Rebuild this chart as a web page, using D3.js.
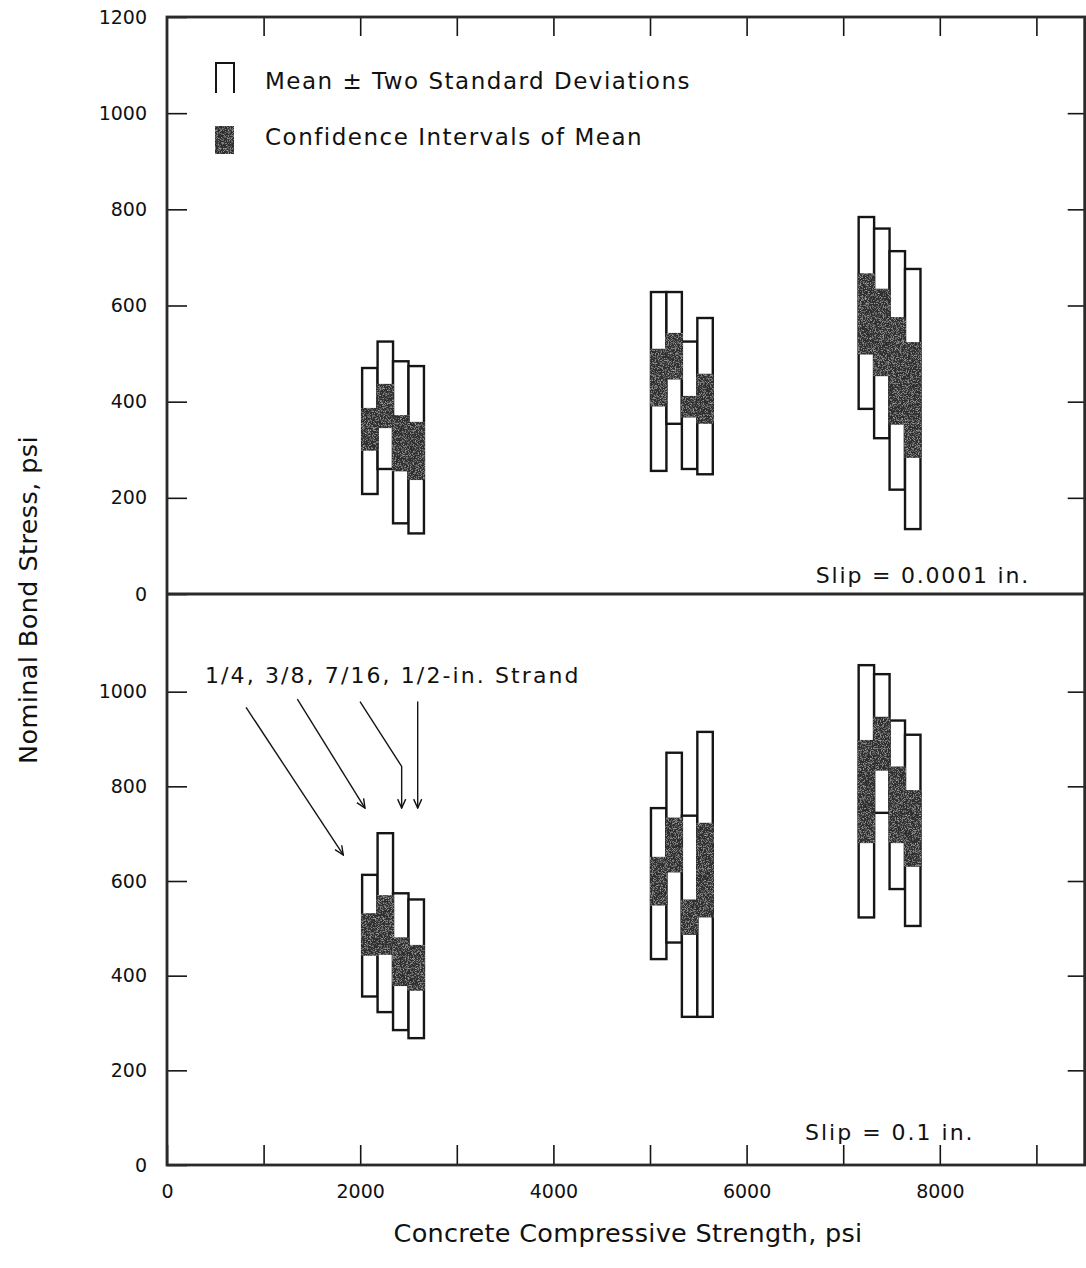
<!DOCTYPE html>
<html>
<head>
<meta charset="utf-8">
<script src="https://cdn.jsdelivr.net/npm/d3@7"></script>
<style>
  html, body { margin: 0; padding: 0; background: #fff; }
  svg text { font-family: "DejaVu Sans", "Liberation Sans", sans-serif; fill: #111; }
</style>
</head>
<body>
<svg id="chart" width="1086" height="1268"></svg>
<script>
// Mean concrete compressive strength of each test series, psi (group centres)
const strengths = [2340, 5330, 7480];
// Strand diameters, in the order the bars are drawn inside each group
const strands = ["1/4", "3/8", "7/16", "1/2"];
const barWidthPsi = 160;

const yTickValues = [0, 200, 400, 600, 800, 1000, 1200];
const xTickValues = [0, 1000, 2000, 3000, 4000, 5000, 6000, 7000, 8000, 9000];
const xLabelValues = [0, 2000, 4000, 6000, 8000];

// Slip = 0.0001 in. : mean +/- 2 s.d. and confidence interval of mean, psi
const lowSlipUpper   = [[470, 525, 484, 474], [628, 628, 525, 574], [784, 760, 713, 676]];
const lowSlipLower   = [[208, 260, 147, 126], [256, 354, 260, 249], [385, 324, 217, 135]];
const lowSlipCIUpper = [[387, 437, 372, 358], [510, 543, 412, 458], [667, 635, 576, 524]];
const lowSlipCILower = [[298, 345, 255, 237], [390, 446, 367, 354], [498, 453, 352, 283]];

// Slip = 0.1 in.
const highSlipUpper   = [[613, 701, 574, 561], [754, 871, 738, 915], [1056, 1037, 939, 909]];
const highSlipLower   = [[356, 323, 285, 268], [435, 470, 313, 313], [523, 744, 583, 505]];
const highSlipCIUpper = [[532, 570, 481, 465], [651, 734, 561, 723], [898, 947, 842, 792]];
const highSlipCILower = [[442, 444, 378, 368], [548, 618, 486, 523], [680, 833, 680, 630]];

function buildRows(upper, lower, ciUpper, ciLower) {
  const rows = [];
  strengths.forEach((s, g) => {
    strands.forEach((st, i) => {
      rows.push({
        strength: s, strand: st, index: i,
        upper: upper[g][i], lower: lower[g][i],
        ciUpper: ciUpper[g][i], ciLower: ciLower[g][i]
      });
    });
  });
  return rows;
}

const svg = d3.select("#chart");
svg.append("rect").attr("width", 1086).attr("height", 1268).attr("fill", "#fff");

// Grain for the shaded confidence-interval blocks
const defs = svg.append("defs");
const grain = defs.append("filter").attr("id", "grain")
  .attr("x", "0").attr("y", "0").attr("width", "1").attr("height", "1");
grain.append("feTurbulence").attr("type", "fractalNoise")
  .attr("baseFrequency", "1.4").attr("numOctaves", "1").attr("seed", "5").attr("result", "noise");
grain.append("feColorMatrix").attr("in", "noise").attr("type", "matrix")
  .attr("values", "0 0 0 0 0.8  0 0 0 0 0.8  0 0 0 0 0.8  1.5 0 0 0 -0.72")
  .attr("result", "specks");
grain.append("feComposite").attr("in", "specks").attr("in2", "SourceGraphic")
  .attr("operator", "in").attr("result", "clipped");
const merge = grain.append("feMerge");
merge.append("feMergeNode").attr("in", "SourceGraphic");
merge.append("feMergeNode").attr("in", "clipped");

const marker = defs.append("marker").attr("id", "arrow")
  .attr("viewBox", "0 0 10 10").attr("refX", 9).attr("refY", 5)
  .attr("markerWidth", 10).attr("markerHeight", 10)
  .attr("markerUnits", "userSpaceOnUse").attr("orient", "auto");
marker.append("path").attr("d", "M0,1 L9,5 L0,9").attr("fill", "none")
  .attr("stroke", "#111").attr("stroke-width", 1.4);

const plotLeft = 167, plotRight = 1084.7, plotTop = 17, plotMid = 594, plotBottom = 1165;
const x = d3.scaleLinear().domain([0, 9500]).range([plotLeft, plotRight]);
const yTop = d3.scaleLinear().domain([0, 1200]).range([plotMid, plotTop]);
const yBot = d3.scaleLinear().domain([0, 1200]).range([plotBottom, 597]);

const shadeColor = "#2f2f2f";
const lineColor = "#151515";

function barX(d) { return x(d.strength + (d.index - 2) * barWidthPsi); }
function barW() { return x(barWidthPsi) - x(0); }

function drawPanel(rows, y) {
  const g = svg.append("g");
  g.selectAll("rect.sd").data(rows).join("rect").attr("class", "sd")
    .attr("x", barX).attr("width", barW())
    .attr("y", d => y(d.upper)).attr("height", d => y(d.lower) - y(d.upper))
    .attr("fill", "#fff").attr("stroke", lineColor).attr("stroke-width", 2.4);
  g.selectAll("rect.ci").data(rows).join("rect").attr("class", "ci")
    .attr("x", d => barX(d) - 1).attr("width", barW() + 2)
    .attr("y", d => y(d.ciUpper)).attr("height", d => y(d.ciLower) - y(d.ciUpper))
    .attr("fill", shadeColor).attr("filter", "url(#grain)");
}

drawPanel(buildRows(lowSlipUpper, lowSlipLower, lowSlipCIUpper, lowSlipCILower), yTop);
drawPanel(buildRows(highSlipUpper, highSlipLower, highSlipCIUpper, highSlipCILower), yBot);

// Axes with inward ticks
function styleAxis(g, size) {
  g.select(".domain").remove();
  g.selectAll(".tick line").attr("stroke", lineColor).attr("stroke-width", 1.6);
  g.selectAll(".tick text").attr("font-size", size).attr("fill", "#111")
    .attr("font-family", "\"DejaVu Sans\", sans-serif");
}
const plain = d => String(d);

svg.append("g").attr("transform", `translate(${plotLeft},0)`)
  .call(d3.axisLeft(yTop).tickValues(yTickValues).tickSize(-20).tickPadding(20).tickFormat(plain))
  .call(g => styleAxis(g, 19));
svg.append("g").attr("transform", `translate(${plotLeft},0)`)
  .call(d3.axisLeft(yBot).tickValues(yTickValues.slice(0, 6)).tickSize(-20).tickPadding(20).tickFormat(plain))
  .call(g => styleAxis(g, 19));
svg.append("g").attr("transform", `translate(${plotRight},0)`)
  .call(d3.axisRight(yTop).tickValues(yTickValues.slice(1, 6)).tickSize(-17).tickFormat(""))
  .call(g => styleAxis(g, 19));
svg.append("g").attr("transform", `translate(${plotRight},0)`)
  .call(d3.axisRight(yBot).tickValues(yTickValues.slice(1, 6)).tickSize(-17).tickFormat(""))
  .call(g => styleAxis(g, 19));
svg.append("g").attr("transform", `translate(0,${plotTop})`)
  .call(d3.axisTop(x).tickValues(xTickValues.slice(1)).tickSize(-19).tickFormat(""))
  .call(g => styleAxis(g, 19));
svg.append("g").attr("transform", `translate(0,${plotBottom})`)
  .call(d3.axisBottom(x).tickValues(xTickValues).tickSize(-20).tickPadding(20)
    .tickFormat(d => xLabelValues.includes(d) ? String(d) : ""))
  .call(g => styleAxis(g, 19));

// Frame and panel divider
svg.append("rect").attr("x", plotLeft).attr("y", plotTop)
  .attr("width", plotRight - plotLeft).attr("height", plotBottom - plotTop)
  .attr("fill", "none").attr("stroke", "#2a2a2a").attr("stroke-width", 2.8);
svg.append("line").attr("x1", plotLeft).attr("x2", plotRight).attr("y1", plotMid).attr("y2", plotMid)
  .attr("stroke", "#2a2a2a").attr("stroke-width", 2.8);

// Legend
const legend = svg.append("g");
legend.append("path").attr("d", "M216,93 V63 H234 V93")
  .attr("fill", "none").attr("stroke", lineColor).attr("stroke-width", 2);
legend.append("text").attr("x", 265).attr("y", 89).attr("font-size", 23)
  .attr("letter-spacing", 1.5).text("Mean \u00b1 Two Standard Deviations");
legend.append("rect").attr("x", 215).attr("y", 126).attr("width", 19).attr("height", 28)
  .attr("fill", shadeColor).attr("filter", "url(#grain)");
legend.append("text").attr("x", 265).attr("y", 145).attr("font-size", 23)
  .attr("letter-spacing", 1.5).text("Confidence Intervals of Mean");

// Panel captions
svg.append("text").attr("x", 1030).attr("y", 583).attr("text-anchor", "end")
  .attr("font-size", 22).attr("letter-spacing", 1.8).text("Slip = 0.0001 in.");
svg.append("text").attr("x", 805).attr("y", 1140)
  .attr("font-size", 22).attr("letter-spacing", 2).text("Slip = 0.1 in.");

// Strand-size callout pointing at the first group of the lower panel
svg.append("text").attr("x", 205).attr("y", 683).attr("font-size", 22)
  .attr("letter-spacing", 2.1).text("1/4, 3/8, 7/16, 1/2-in. Strand");
const callouts = [
  [[870, 967], [1877, 655]],
  [[1401, 984], [2101, 754]],
  [[2050, 979], [2481, 842], [2481, 754]],
  [[2647, 979], [2647, 754]]
];
const line = d3.line().x(p => x(p[0]) - 5).y(p => yBot(p[1]));
svg.append("g").selectAll("path").data(callouts).join("path")
  .attr("d", line).attr("fill", "none").attr("stroke", lineColor)
  .attr("stroke-width", 1.4).attr("marker-end", "url(#arrow)");

// Axis titles
svg.append("text").attr("x", 628).attr("y", 1242).attr("text-anchor", "middle")
  .attr("font-size", 25.5).attr("letter-spacing", 0.3).text("Concrete Compressive Strength, psi");
svg.append("text").attr("transform", "translate(37,600) rotate(-90)")
  .attr("text-anchor", "middle").attr("font-size", 25.5).attr("letter-spacing", 0.4)
  .text("Nominal Bond Stress, psi");
</script>
</body>
</html>
